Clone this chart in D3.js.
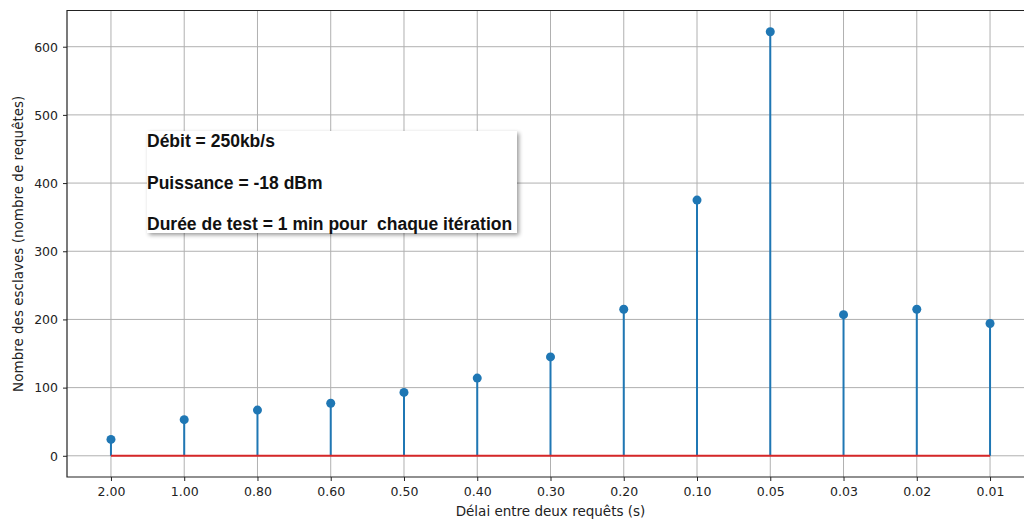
<!DOCTYPE html>
<html><head><meta charset="utf-8">
<script src="https://cdn.jsdelivr.net/npm/d3@7"></script>
<style>body{margin:0;background:#fff}svg{display:block}</style>
</head><body>
<svg id="c" width="1024" height="521"></svg>
<script>
const categories = ["2.00","1.00","0.80","0.60","0.50","0.40","0.30","0.20","0.10","0.05","0.03","0.02","0.01"];
const values = [24, 53, 67, 77, 93, 114, 145, 215, 375, 622, 207, 215, 194];
const yTicks = [0, 100, 200, 300, 400, 500, 600];
const annotation = ["Débit = 250kb/s", "Puissance = -18 dBm", "Durée de test = 1 min pour  chaque itération"];
const xLabel = "Délai entre deux requêts (s)";
const yLabel = "Nombre des esclaves (nombre de requêtes)";

const svg = d3.select("#c");
const L = 67, R = 1034, T = 10.5, B = 477;
const n = categories.length;
const x = d3.scaleLinear().domain([-0.6, n - 1 + 0.6]).range([L, R]);
const yMax = d3.max(values);
const y = d3.scaleLinear().domain([-0.05 * yMax, yMax * 1.05]).range([B, T]);
const font = "DejaVu Sans, sans-serif";

// grid
const g = svg.append("g");
g.selectAll(".vg").data(categories).join("line")
  .attr("x1", (d,i)=>x(i)).attr("x2",(d,i)=>x(i)).attr("y1",T).attr("y2",B)
  .attr("stroke","#b0b0b0").attr("stroke-width",1);
g.selectAll(".hg").data(yTicks).join("line")
  .attr("x1", L).attr("x2", R).attr("y1", d=>y(d)).attr("y2", d=>y(d))
  .attr("stroke","#b0b0b0").attr("stroke-width",1);

// axes
const xAxis = d3.axisBottom(x).tickValues(d3.range(n)).tickFormat(i=>categories[i]).tickSize(4).tickPadding(6);
const yAxis = d3.axisLeft(y).tickValues(yTicks).tickSize(4).tickPadding(5);
const ax = svg.append("g").attr("transform",`translate(0,${B})`).call(xAxis);
const ay = svg.append("g").attr("transform",`translate(${L},0)`).call(yAxis);
[ax, ay].forEach(a=>{
  a.select(".domain").remove();
  a.selectAll("text").attr("font-family",font).attr("font-size",12.5).attr("fill","#222");
  a.selectAll("line").attr("stroke","#222");
});
ay.selectAll("text").attr("dy","0.35em");

// stems
const s = svg.append("g");
s.selectAll(".stem").data(values).join("line")
  .attr("x1",(d,i)=>x(i)).attr("x2",(d,i)=>x(i)).attr("y1",y(0)).attr("y2",d=>y(d))
  .attr("stroke","#1f77b4").attr("stroke-width",2);
s.append("line").attr("x1",x(0)).attr("x2",x(n-1)).attr("y1",y(0)).attr("y2",y(0))
  .attr("stroke","#d62728").attr("stroke-width",2);
s.selectAll(".pt").data(values).join("circle")
  .attr("cx",(d,i)=>x(i)).attr("cy",d=>y(d)).attr("r",4.5).attr("fill","#1f77b4");

// spines
svg.append("path").attr("d",`M${R},${T}H${L}V${B}H${R}`).attr("fill","none").attr("stroke","#222").attr("stroke-width",1.2);

// labels
svg.append("text").attr("x",(L+R)/2).attr("y",516).attr("text-anchor","middle")
  .attr("font-family",font).attr("font-size",13.5).attr("fill","#222").text(xLabel);
svg.append("text").attr("transform",`translate(23,${(T+B)/2}) rotate(-90)`).attr("text-anchor","middle")
  .attr("font-family",font).attr("font-size",13.5).attr("fill","#222").text(yLabel);

// annotation box
const bx = 147, by = 131, bw = 370, bh = 102;
const defs = svg.append("defs");
const f = defs.append("filter").attr("id","sh").attr("x","-10%").attr("y","-10%").attr("width","130%").attr("height","140%");
f.append("feGaussianBlur").attr("in","SourceAlpha").attr("stdDeviation",2);
f.append("feOffset").attr("dx",2).attr("dy",2).attr("result","o");
f.append("feComponentTransfer").append("feFuncA").attr("type","linear").attr("slope",0.4);
const m = f.append("feMerge"); m.append("feMergeNode"); m.append("feMergeNode").attr("in","SourceGraphic");
svg.append("rect").attr("x",bx).attr("y",by).attr("width",bw).attr("height",bh).attr("fill","#fff").attr("filter","url(#sh)");
const baselines = [146.5, 188.5, 230];
svg.selectAll(".ann").data(annotation).join("text")
  .attr("x",bx).attr("y",(d,i)=>baselines[i])
  .attr("font-family","Liberation Sans, Arial, sans-serif").attr("font-weight","bold").attr("font-size",17.5)
  .attr("fill","#111").attr("xml:space","preserve").style("white-space","pre").text(d=>d);
</script>
</body></html>
